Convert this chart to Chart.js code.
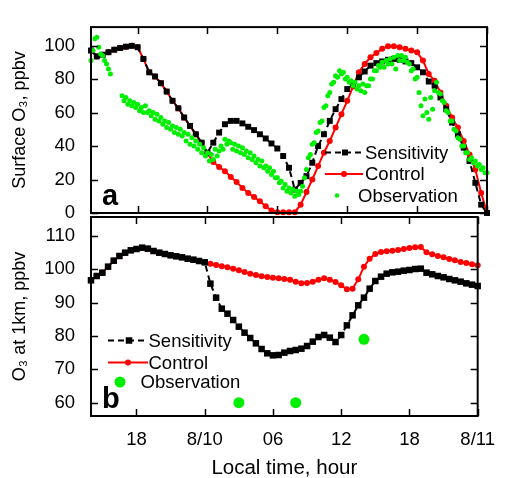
<!DOCTYPE html>
<html><head><meta charset="utf-8">
<script src="https://cdn.jsdelivr.net/npm/chart.js@4.4.1/dist/chart.umd.min.js"></script>
<style>
html,body{margin:0;padding:0;background:#fff;}
#wrap{position:relative;width:508px;height:478px;background:#fff;}
canvas{position:absolute;left:0;top:0;}
</style></head><body>
<div id="wrap"><canvas id="ca" width="508" height="478"></canvas><canvas id="cb" width="508" height="478"></canvas></div>
<script>
// ---------- data ----------
const xTickHours = [18, 24, 30, 36, 42, 48];
const xTickLabels = ['18', '8/10', '06', '12', '18', '8/11'];
const yTicksSurface = [0, 20, 40, 60, 80, 100];
const yTicks1km = [60, 70, 80, 90, 100, 110];

// model output, hours since 8/9 00:00, every 30 min from 14:00
const modelStartHour = 14, modelStepHours = 0.5;
const sensitivitySurface = [
 97, 93.5, 94.5, 96, 97.5, 98.5, 99.3, 99.8, 99, 92,
 84, 81.5, 77.5, 72.5, 67, 62.5, 57, 52, 47, 42,
 36, 42, 48, 53, 55, 55, 53.5, 51.5, 49.5, 47,
 44.5, 41.5, 38.5, 34, 27, 14, 18, 22, 30, 40,
 47, 55, 62, 68, 74, 77, 81, 84.5, 88, 89.5,
 90.5, 91.5, 92, 91.5, 90.5, 89.5, 87, 84, 78.5, 76,
 69, 62, 54, 47, 39, 31, 18, 5, 0];
const controlSurface = [
 97, 93.5, 94.5, 96, 97.5, 98.5, 99.3, 99.8, 99, 92,
 84, 81.5, 77.5, 72.5, 67, 62.5, 57, 52, 47, 42,
 35.5, 30.5, 27.5, 25, 21.5, 18.5, 15, 12, 9.5, 7,
 4, 1.5, 0.5, 0.5, 0.5, 0.5, 5, 12.5, 20, 28,
 36, 43, 51, 59, 67, 75.5, 84, 89, 93, 95.5,
 98, 99.5, 99.5, 99, 98, 97, 96, 91, 83, 79,
 72, 64, 57, 51, 43, 35, 26, 12, 0];
const sensitivity1km = [
 96.7, 98, 99, 100.8, 102.6, 104, 105, 105.7, 106.1, 106.5,
 106.2, 105.5, 105, 104.6, 104.2, 103.9, 103.6, 103.2, 102.9, 102.5,
 102.1, 95.7, 91.5, 88.2, 86.7, 84.8, 82.8, 81, 79.4, 77.8,
 76.1, 74.8, 74.2, 74.3, 75, 75.5, 75.8, 76.2, 77, 78.3,
 79.7, 80.3, 79.5, 78.2, 80.3, 83.2, 86.2, 89.2, 91.5, 94.2,
 96.5, 97.8, 98.7, 99.1, 99.3, 99.6, 99.8, 100.1, 100.2, 99,
 98.5, 98, 97.6, 97.1, 96.7, 96.3, 95.8, 95.4, 95];
const control1km = [
 96.7, 98, 99, 100.8, 102.6, 104, 105, 105.7, 106.1, 106.5,
 106.2, 105.5, 105, 104.6, 104.2, 103.9, 103.6, 103.2, 102.9, 102.5,
 102.1, 101.7, 101.3, 100.9, 100.6, 100.2, 99.7, 99.2, 98.7, 98.3,
 97.9, 97.7, 97.5, 97.3, 97.1, 96.9, 96.3, 95.8, 95.9, 96.3,
 96.9, 97.3, 96.9, 96.2, 95.2, 94, 94.2, 97, 100.8, 103.2,
 104.6, 105.2, 105.4, 105.6, 105.8, 106.1, 106.4, 106.6, 106.7, 105.1,
 104.5, 104, 103.6, 103.1, 102.7, 102.2, 101.9, 101.5, 101.2];

// surface observations every 10 min from 14:00 (null = missing)
const obsStartHour = 14, obsStepHours = 1 / 6;
const observationSurface = [
 91, 97, 104, 105, 99, 95,
 94, 91, 89, 86, 83, null,
 null, null, null, null, 70, 67,
 69, 65, 67, 64, 66, 63,
 65, 61, 63, 60, 64, 60,
 61, 58, 60, 56, 59, 55,
 57, 53, 55, 51, 54, 50,
 52, 48, 51, 47, 50, 46,
 48, 43, 47, 41, 45, 40,
 43, 38, 41, 36, 39, 34,
 36, 31, 35, 32, 38, 34,
 37, 40, 38, 44, 41, 43,
 42, 38, 41, 37, 40, 36,
 39, 35, 37, 33, 36, 32,
 34, 30, 32, 28, 31, 27,
 28, 25, 27, 23, 25, 21,
 21, 18, 19, 15, 17, 13,
 15, 12, 14, 10, 13, 11,
 13, 16, 21, 26, 33, 35,
 41, 42, 48, 49, 54, 55,
 63, 64, 70, 72, 77, 78,
 82, 81, 85, 83, 84, 80,
 81, 78, 79, 76, 78, 74,
 76, 73, 77, 72, 76, 76,
 80, 80, 85, 85, 88, 87,
 90, 87, 91, 89, 92, 89,
 93, 86, 94, 91, 94, 91,
 93, 90, 89, 85, 86, 80,
 81, 72, 64, 58, 68, 60,
 56, 69, 62, 73, 78, 72,
 71, 67, 66, 61, 60, 55,
 55, 50, 49, 45, 44, 40,
 40, 36, 36, 32, 33, 30,
 31, 28, 29, 26, 27, 24,
 24];

// 1 km observations
const obs1kmHours = [27, 32, 38];
const obs1kmValues = [60, 60, 79];

// ---------- styling ----------
const FONT = '"Liberation Sans", Arial, Helvetica, sans-serif';
const RED = '#ff0000', GREEN = '#00ee00', BLACK = '#000000';

function toPoints(start, step, values) {
  return values.map((v, i) => ({ x: start + i * step, y: v }));
}
function pairPoints(xs, ys) { return xs.map((x, i) => ({ x: x, y: ys[i] })); }

function drawMarker(ctx, style, x, y, r, color) {
  ctx.fillStyle = color;
  ctx.beginPath();
  if (style === 'rect') {
    const s = r * Math.SQRT1_2;
    ctx.rect(x - s, y - s, 2 * s, 2 * s);
  } else {
    ctx.arc(x, y, r, 0, Math.PI * 2);
  }
  ctx.fill();
}

const framePlugin = {
  id: 'frame',
  afterDraw(chart, args, o) {
    const { ctx, chartArea: a } = chart;
    const sx = chart.scales.x, sy = chart.scales.y;
    ctx.save();
    ctx.strokeStyle = BLACK;
    ctx.lineWidth = 1.5;
    ctx.setLineDash([]);
    ctx.beginPath();
    xTickHours.forEach(h => {
      const x = Math.round(sx.getPixelForValue(h)) + 0.5;
      ctx.moveTo(x, a.bottom); ctx.lineTo(x, a.bottom - 7);
      ctx.moveTo(x, a.top); ctx.lineTo(x, a.top + 7);
    });
    o.yTicks.forEach(v => {
      const y = Math.round(sy.getPixelForValue(v)) + 0.5;
      ctx.moveTo(a.left, y); ctx.lineTo(a.left + 7, y);
      ctx.moveTo(a.right, y); ctx.lineTo(a.right - 7, y);
    });
    ctx.stroke();
    ctx.lineWidth = 2;
    ctx.strokeRect(a.left, a.top, a.right - a.left, a.bottom - a.top);

    // panel letter
    ctx.fillStyle = BLACK;
    ctx.font = 'bold 29px ' + FONT;
    ctx.textBaseline = 'alphabetic';
    ctx.textAlign = 'left';
    ctx.fillText(o.letter, o.letterX, o.letterY);

    // legend
    ctx.font = o.legendFont + 'px ' + FONT;
    ctx.textBaseline = 'middle';
    o.legend.forEach(it => {
      const ds = chart.data.datasets.find(d => d.label === it.label);
      if (it.line) {
        ctx.strokeStyle = ds.borderColor;
        ctx.lineWidth = ds.borderWidth;
        ctx.setLineDash(ds.borderDash || []);
        ctx.beginPath();
        ctx.moveTo(it.x1, it.y); ctx.lineTo(it.x2, it.y);
        ctx.stroke();
        ctx.setLineDash([]);
      }
      drawMarker(ctx, ds.pointStyle, it.mx, it.y, it.r || ds.pointRadius, ds.pointBackgroundColor);
      ctx.fillStyle = BLACK;
      ctx.fillText(it.label, it.tx, it.y + 1);
    });
    ctx.restore();
  }
};

const tickFont = { family: FONT, size: 18.5 };

function yScale(min, max, ticks, title) {
  return {
    type: 'linear', min: min, max: max,
    afterFit(s) { s.width = 91; },
    afterBuildTicks(s) { s.ticks = ticks.map(v => ({ value: v })); },
    grid: { display: false, drawTicks: false },
    border: { display: false },
    ticks: { font: tickFont, color: BLACK, padding: 16 },
    title: { display: true, text: title, color: BLACK, font: { family: FONT, size: 18 }, padding: { top: 9, bottom: 0 } }
  };
}

function modelSets(sens, ctrl, sqR) {
  return [
    { label: 'Sensitivity', data: toPoints(modelStartHour, modelStepHours, sens), borderColor: BLACK, borderWidth: 2,
      borderDash: [6, 4], pointStyle: 'rect', pointRadius: sqR, pointBackgroundColor: BLACK, pointBorderWidth: 0,
      tension: 0, order: 1, clip: false },
    { label: 'Control', data: toPoints(modelStartHour, modelStepHours, ctrl), borderColor: RED, borderWidth: 2,
      pointStyle: 'circle', pointRadius: 3, pointBackgroundColor: RED, pointBorderWidth: 0,
      tension: 0, order: 2, clip: false }
  ];
}

new Chart(document.getElementById('ca'), {
  type: 'line',
  data: {
    datasets: [
      { label: 'Observation', data: toPoints(obsStartHour, obsStepHours, observationSurface), showLine: false,
        pointStyle: 'circle', pointRadius: 2.5, pointBackgroundColor: GREEN, pointBorderWidth: 0, borderColor: GREEN, order: 0, clip: false },
      ...modelSets(sensitivitySurface, controlSurface, 4.2)
    ]
  },
  options: {
    responsive: false, animation: false, devicePixelRatio: 1,
    layout: { padding: { left: 0, right: 21, top: 13, bottom: 265 } },
    plugins: {
      legend: { display: false }, tooltip: { enabled: false },
      frame: {
        yTicks: yTicksSurface, letter: 'a', letterX: 102, letterY: 205, legendFont: 18.5,
        legend: [
          { label: 'Sensitivity', line: true, x1: 325, x2: 363, mx: 345, tx: 365, y: 152.5 },
          { label: 'Control', line: true, x1: 325, x2: 363, mx: 344, tx: 365, y: 174 },
          { label: 'Observation', line: false, mx: 337, r: 2.2, tx: 358, y: 195.5 }
        ]
      }
    },
    scales: {
      x: { type: 'linear', min: 14, max: 48, display: false },
      y: yScale(0, 111, yTicksSurface, 'Surface O\u2083, ppbv')
    }
  },
  plugins: [framePlugin]
});

new Chart(document.getElementById('cb'), {
  type: 'line',
  data: {
    datasets: [
      { label: 'Observation', data: pairPoints(obs1kmHours, obs1kmValues), showLine: false,
        pointStyle: 'circle', pointRadius: 5.5, pointBackgroundColor: GREEN, pointBorderWidth: 0, borderColor: GREEN, order: 0, clip: false },
      ...modelSets(sensitivity1km, control1km, 4.6)
    ]
  },
  options: {
    responsive: false, animation: false, devicePixelRatio: 1,
    layout: { padding: { left: 0, right: 21, top: 217, bottom: 0 } },
    plugins: {
      legend: { display: false }, tooltip: { enabled: false },
      frame: {
        yTicks: yTicks1km, letter: 'b', letterX: 102, letterY: 408, legendFont: 18.5,
        legend: [
          { label: 'Sensitivity', line: true, x1: 108, x2: 148, mx: 129, tx: 148.5, y: 340.5 },
          { label: 'Control', line: true, x1: 108, x2: 148, mx: 128, tx: 148.5, y: 362.5 },
          { label: 'Observation', line: false, mx: 120, r: 5.5, tx: 140.5, y: 382 }
        ]
      }
    },
    scales: {
      x: {
        type: 'linear', min: 14, max: 48,
        afterFit(s) { s.height = 62; },
        afterBuildTicks(s) { s.ticks = xTickHours.map(v => ({ value: v })); },
        grid: { display: false, drawTicks: false },
        border: { display: false },
        ticks: { font: tickFont, color: BLACK, padding: 13, autoSkip: false, maxRotation: 0,
                 callback: (v) => xTickLabels[xTickHours.indexOf(v)] },
        title: { display: true, text: 'Local time, hour', color: BLACK, font: { family: FONT, size: 20.5, lineHeight: 1.0 }, padding: { top: 0, bottom: -1 } }
      },
      y: yScale(56, 115.7, yTicks1km, 'O\u2083 at 1km, ppbv')
    }
  },
  plugins: [framePlugin]
});
</script>
</body></html>
